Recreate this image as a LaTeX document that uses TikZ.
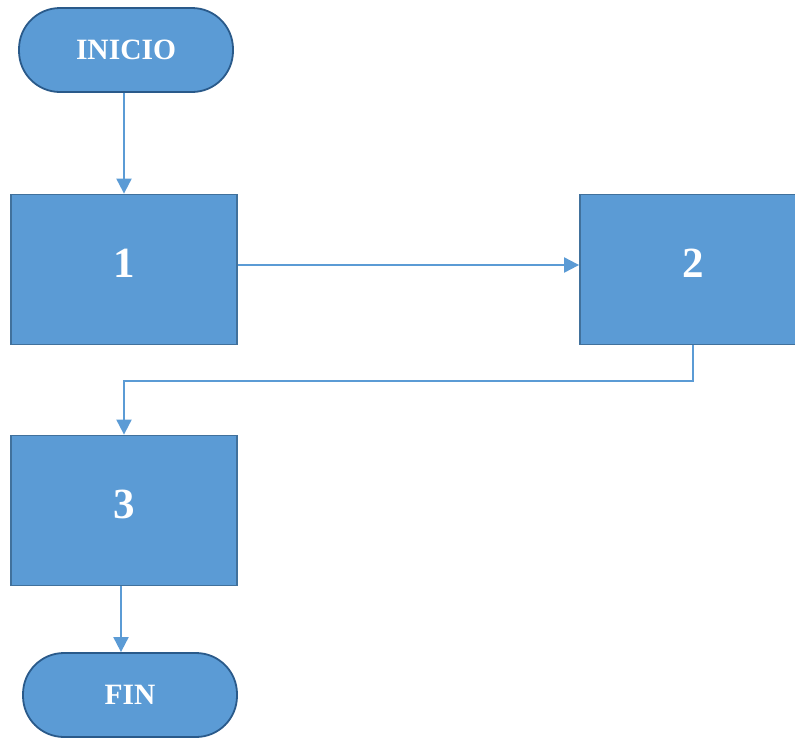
\documentclass[tikz,border=0pt]{standalone}
\usepackage{fontspec}
\setmainfont{Liberation Serif}
\usetikzlibrary{arrows.meta}
\definecolor{cajaazul}{HTML}{5B9BD5}
\definecolor{bordeazul}{HTML}{41719C}
\definecolor{bordeoscuro}{HTML}{2A5A8A}
\tikzset{
	proceso/.style={draw=bordeazul,line width=1.8pt,fill=cajaazul,
		minimum width=226pt,minimum height=150pt,
		text height=29pt,text depth=14pt,
		text=white,font=\bfseries\fontsize{43}{43}\selectfont},
	terminal/.style={draw=bordeoscuro,line width=1.8pt,fill=cajaazul,
		rounded corners=41pt,minimum width=214pt,minimum height=84pt,
		text=white,font=\bfseries\fontsize{29.5}{29.5}\selectfont},
	flecha/.style={draw=cajaazul,line width=2pt,
		-{Triangle[width=15pt,length=15pt]}}
}
\begin{document}
\begin{tikzpicture}[x=1pt,y=-1pt]
	\useasboundingbox (0,0) rectangle (795,737);
%Inicio y fin
	\node[terminal] (inicio) at (126,50) {INICIO};
	\node[terminal] (fin) at (130,695) {FIN};
%Pasos
	\node[proceso] (paso1) at (124,269.5) {1};
	\node[proceso] (paso2) at (693,269.5) {2};
	\node[proceso] (paso3) at (124,510.5) {3};
%Flechas
	\draw[flecha] (paso1.north |- inicio.south) -- (paso1.north);
	\draw[flecha] (paso1.east |- 0,265) -- (paso2.west |- 0,265);
	\draw[flecha] (paso2.south) -- ++(0,36) -| (paso3.north);
	\draw[flecha] (paso3.south -| 121,0) -- (fin.north -| 121,0);
\end{tikzpicture}
\end{document}
